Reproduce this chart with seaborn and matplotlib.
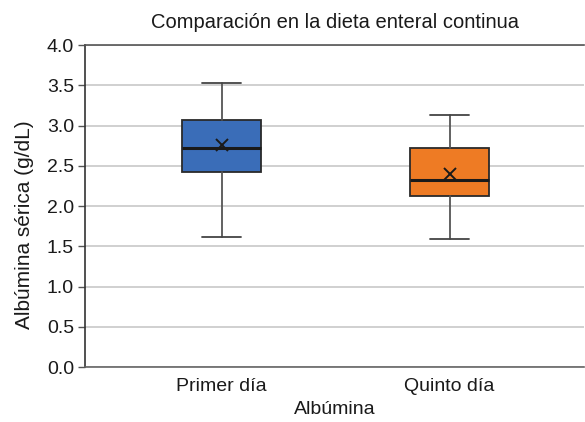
import matplotlib
matplotlib.use('Agg')
import matplotlib.pyplot as plt
import seaborn as sns

# valores (g/dL)
grupos = ['Primer día', 'Quinto día']
minimos = [1.62, 1.59]
q1 = [2.42, 2.12]
medianas = [2.72, 2.32]
q3 = [3.07, 2.72]
maximos = [3.53, 3.13]
medias = [2.76, 2.40]
colores = ['#3A6DB8', '#EE7B24']
yticks = [0.0, 0.5, 1.0, 1.5, 2.0, 2.5, 3.0, 3.5, 4.0]

sns.set_theme(style='white')
plt.rcParams['font.family'] = ['Liberation Sans', 'DejaVu Sans']

fig, ax = plt.subplots(figsize=(5.85, 4.22), dpi=100)
ax.set_position([0.1453, 0.1303, 0.853, 0.763])

stats = []
for i, g in enumerate(grupos):
    stats.append(dict(label=g, whislo=minimos[i], q1=q1[i], med=medianas[i],
                      q3=q3[i], whishi=maximos[i], mean=medias[i], fliers=[]))

bp = ax.bxp(stats, positions=[0, 1], widths=0.346, patch_artist=True,
            showmeans=True, showfliers=False, zorder=3,
            boxprops=dict(edgecolor='#2a2a2a', linewidth=1.3),
            medianprops=dict(color='#1a1a1a', linewidth=2.2),
            whiskerprops=dict(color='#555555', linewidth=1.3),
            capprops=dict(color='#444444', linewidth=1.3),
            meanprops=dict(marker='x', markeredgecolor='#1a1a1a', markersize=8,
                           markeredgewidth=1.4))
for patch, c in zip(bp['boxes'], colores):
    patch.set_facecolor(c)

ax.set_xlim(-0.6, 1.59)
ax.set_ylim(0, 4)
ax.set_yticks(yticks)
ax.set_yticklabels([f'{t:.1f}' for t in yticks])
ax.yaxis.grid(True, color='#c8c8c8', linewidth=1.2, zorder=0)
ax.set_axisbelow(True)

ax.spines['right'].set_visible(False)
ax.spines['top'].set_color('#555555')
ax.spines['left'].set_color('#333333')
ax.spines['bottom'].set_color('#666666')
for s in ['top', 'left', 'bottom']:
    ax.spines[s].set_linewidth(1.2)

ax.tick_params(axis='y', which='major', left=True, length=5, width=1, color='#555555',
               labelsize=14, labelcolor='#1a1a1a', pad=3)
ax.tick_params(axis='x', bottom=False, length=0, labelsize=14, labelcolor='#1a1a1a', pad=8)

ax.set_title('Comparación en la dieta enteral continua', fontsize=14.5, color='#1a1a1a', pad=12)
ax.set_xlabel('Albúmina', fontsize=14, color='#1a1a1a', labelpad=4)
ax.set_ylabel('Albúmina sérica (g/dL)', fontsize=15, color='#1a1a1a')
ax.yaxis.set_label_coords(-0.102, 0.441)

fig.savefig('out.png', dpi=100)
